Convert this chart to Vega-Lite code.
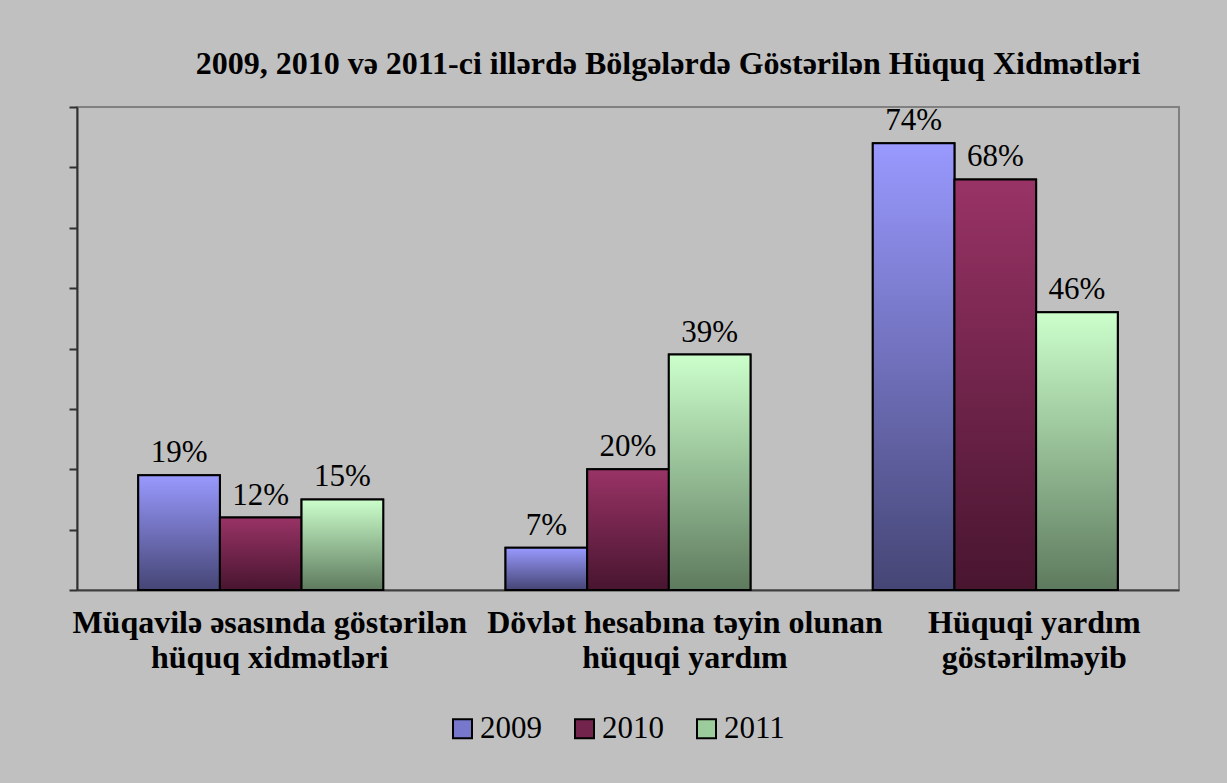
{
  "$schema": "https://vega.github.io/schema/vega-lite/v6.json",
  "autosize": {"type": "none"},
  "width": 1102,
  "height": 483,
  "padding": {"left": 77, "top": 107, "right": 48, "bottom": 193},
  "background": "#C0C0C0",
  "title": {
    "text": "2009, 2010 və 2011-ci illərdə Bölgələrdə Göstərilən Hüquq Xidmətləri",
    "font": "Liberation Serif",
    "fontSize": 32,
    "fontWeight": "bold",
    "color": "#000000",
    "anchor": "middle",
    "dx": 40,
    "baseline": "alphabetic",
    "offset": -1
  },
  "config": {
    "view": {"stroke": "#808080", "strokeWidth": 2},
    "axis": {"grid": false}
  },
  "data": {
    "values": [
      {"category": "Müqavilə əsasında  göstərilən|hüquq xidmətləri", "year": "2009", "value": 0.19},
      {"category": "Müqavilə əsasında  göstərilən|hüquq xidmətləri", "year": "2010", "value": 0.12},
      {"category": "Müqavilə əsasında  göstərilən|hüquq xidmətləri", "year": "2011", "value": 0.15},
      {"category": "Dövlət hesabına təyin olunan|hüquqi yardım", "year": "2009", "value": 0.07},
      {"category": "Dövlət hesabına təyin olunan|hüquqi yardım", "year": "2010", "value": 0.20},
      {"category": "Dövlət hesabına təyin olunan|hüquqi yardım", "year": "2011", "value": 0.39},
      {"category": "Hüquqi yardım|göstərilməyib", "year": "2009", "value": 0.74},
      {"category": "Hüquqi yardım|göstərilməyib", "year": "2010", "value": 0.68},
      {"category": "Hüquqi yardım|göstərilməyib", "year": "2011", "value": 0.46}
    ]
  },
  "encoding": {
    "x": {
      "field": "category",
      "type": "nominal",
      "sort": null,
      "scale": {"paddingInner": 0.333, "paddingOuter": 0.1667},
      "axis": {
        "title": null,
        "labelAngle": 0,
        "labelExpr": "split(datum.label, '|')",
        "labelFont": "Liberation Serif",
        "labelFontSize": 32,
        "labelFontWeight": "bold",
        "labelColor": "#000000",
        "labelLineHeight": 35,
        "labelPadding": 17,
        "labelLimit": 0,
        "ticks": false,
        "tickSize": 0,
        "domainColor": "#404040",
        "domainWidth": 2,
        "labelOffset": {
          "condition": [
            {"test": "datum.value === 'Dövlət hesabına təyin olunan|hüquqi yardım'", "value": 57},
            {"test": "datum.value === 'Hüquqi yardım|göstərilməyib'", "value": 39}
          ],
          "value": 9
        }
      }
    },
    "xOffset": {"field": "year", "type": "nominal", "scale": {"domain": ["2009", "2010", "2011"], "paddingInner": 0, "paddingOuter": 0}},
    "y": {
      "field": "value",
      "type": "quantitative",
      "scale": {"domain": [0, 0.8], "nice": false},
      "axis": {
        "title": null,
        "labels": false,
        "values": [0, 0.1, 0.2, 0.3, 0.4, 0.5, 0.6, 0.7, 0.8],
        "ticks": true,
        "tickSize": 8,
        "tickWidth": 2,
        "tickColor": "#303030",
        "domainColor": "#303030",
        "domainWidth": 2
      }
    }
  },
  "layer": [
    {
      "mark": {"type": "bar", "stroke": "#000000", "strokeWidth": 2, "opacity": 1},
      "encoding": {
        "fill": {
          "field": "year",
          "type": "nominal",
          "scale": {
            "domain": ["2009", "2010", "2011"],
            "range": ["#7777CC", "#73244D", "#9CCC9C"]
          },
          "legend": {
            "title": null,
            "orient": "none",
            "legendX": 370,
            "legendY": 606,
            "direction": "horizontal",
            "symbolType": "square",
            "symbolSize": 361,
            "symbolStrokeColor": "#000000",
            "symbolStrokeWidth": 2,
            "symbolOpacity": 1,
            "labelFont": "Liberation Serif",
            "labelFontSize": 31,
            "labelColor": "#000000",
            "labelOffset": 2,
            "columnPadding": 27
          }
        }
      }
    },
    {
      "transform": [{"filter": "datum.year === '2009'"}],
      "mark": {"type": "bar", "stroke": "#000000", "strokeWidth": 2, "opacity": 1,
        "color": {"gradient": "linear", "x1": 0, "y1": 0, "x2": 0, "y2": 1, "stops": [{"offset": 0, "color": "#9999FF"}, {"offset": 1, "color": "#454575"}]}}
    },
    {
      "transform": [{"filter": "datum.year === '2010'"}],
      "mark": {"type": "bar", "stroke": "#000000", "strokeWidth": 2, "opacity": 1,
        "color": {"gradient": "linear", "x1": 0, "y1": 0, "x2": 0, "y2": 1, "stops": [{"offset": 0, "color": "#993366"}, {"offset": 1, "color": "#48152F"}]}}
    },
    {
      "transform": [{"filter": "datum.year === '2011'"}],
      "mark": {"type": "bar", "stroke": "#000000", "strokeWidth": 2, "opacity": 1,
        "color": {"gradient": "linear", "x1": 0, "y1": 0, "x2": 0, "y2": 1, "stops": [{"offset": 0, "color": "#CCFFCC"}, {"offset": 1, "color": "#5E7A5E"}]}}
    },
    {
      "mark": {"type": "text", "font": "Liberation Serif", "fontSize": 31, "color": "#000000", "baseline": "alphabetic", "dy": -13},
      "encoding": {
        "text": {"field": "value", "type": "quantitative", "format": ".0%"}
      }
    }
  ]
}
